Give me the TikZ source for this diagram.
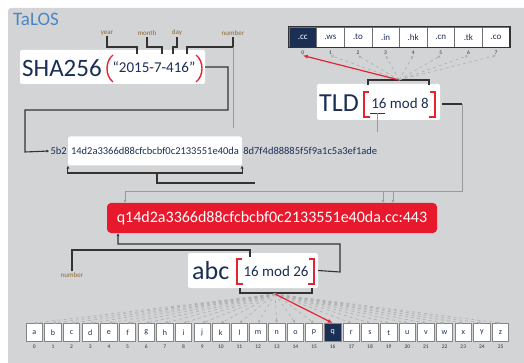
\documentclass[tikz,border=0pt]{standalone}
\usepackage{fontspec}
\setmainfont{Carlito}
\usetikzlibrary{arrows.meta,calc}
\definecolor{bg}{HTML}{D3D4D6}
\definecolor{navy}{HTML}{1B2F55}
\definecolor{boxred}{HTML}{E8192C}
\definecolor{linered}{HTML}{E52432}
\definecolor{lndark}{HTML}{333333}
\definecolor{lnlight}{HTML}{9A9A9A}
\definecolor{lblbrown}{HTML}{8C6A3A}
\definecolor{logoblue}{HTML}{4A86C5}
\newcommand{\fs}[1]{\fontsize{#1}{#1}\selectfont}
\tikzset{
  ln/.style={draw=lndark, line width=1.1pt},
  lnl/.style={draw=lnlight, line width=0.9pt},
  tip/.style={-{Latex[length=3pt,width=3pt]}},
  redarr/.style={draw=linered, line width=1.2pt, -{Latex[length=5pt,width=4pt]}},
  fanarr/.style={draw=lnlight!80, line width=0.6pt, dashed, -{Latex[length=3pt,width=3pt]}},
  brk/.style={draw=linered, line width=1.4pt},
  wbox/.style={fill=white, rounded corners=2pt, inner sep=0pt},
  lbl/.style={text=lblbrown, font=\fs{7}, inner sep=1pt},
  tldcell/.style={draw=lndark!70, fill=white, minimum width=27.6pt, minimum height=20pt, inner sep=0pt, text=navy, font=\fs{9}},
  abccell/.style={draw=lndark!60, fill=white, line width=0.8pt, minimum width=16.5pt, minimum height=18pt, inner sep=0pt, text=navy, font=\fs{8}},
  idx/.style={text=lndark, font=\fs{5.5}, inner sep=0.5pt},
}
\begin{document}
\begin{tikzpicture}[x=1pt,y=-1pt]
\useasboundingbox (0,0) rectangle (524,363);
\fill[white] (0,0) rectangle (524,363);
\fill[bg] (11,8) -- (524,8) -- (524,363) -- (8,363) -- (8,11) arc[start angle=180, end angle=90, radius=3pt] -- cycle;

% logo
\node[anchor=west, text=logoblue, font=\fs{19}, inner sep=0pt] (logo) at (13,19) {TaLOS};

% SHA256 box
\node[wbox, minimum width=185pt, minimum height=34pt] (shabox) at (112.5,67) {};
\node[anchor=west, text=navy, font=\fs{25}, inner sep=0pt] (sha) at (22,68) {SHA256};
\node[text=navy, font=\fs{15}, inner sep=0pt] (date) at (154,67) {“2015-7-416”};
\draw[brk] (113,55) .. controls (105,61) and (105,76) .. (113,82);
\draw[brk] (196,55) .. controls (204,61) and (204,76) .. (196,82);

% labels
\node[lbl] (year) at (107,33) {year};
\node[lbl] (month) at (147,33) {month};
\node[lbl] (day) at (177,33) {day};
\node[lbl] (number) at (233,33) {number};
\draw[ln] (year.south) -- (107,47) -- (137,47) -- (137,54);
\draw[ln] (month.south) -- (147,47) -- (162,47) -- (162,54);
\draw[ln] (day.south) -- (177,47) -- (173,47) -- (173,54);
\draw[ln] (number.south) -- (233,47) -- (187,47) -- (187,54);
\draw[lnl] (233,47) -- (233,128);

% TLD list
\foreach \t [count=\i from 0] in {.cc,.ws,.to,.in,.hk,.cn,.tk,.co} {
  \pgfmathsetmacro{\cx}{289+13.8+27.6*\i}
  \node[tldcell] (t\i) at (\cx,37) {\t};
  \node[idx] (ti\i) at (\cx,53) {\i};
}
\node[tldcell, fill=navy, text=white] at (t0) {.cc};
\draw[lndark, line width=1.2pt] (t0.north west) rectangle (t7.south east);

% TLD box
\node[wbox, minimum width=123pt, minimum height=36pt] (tldbox) at (378.5,102) {};
\node[anchor=west, text=navy, font=\fs{26}, inner sep=0pt] (tldtxt) at (319,103) {TLD};
\node[text=navy, font=\fs{15}, inner sep=0pt] (tldmod) at (400,103) {16 mod 8};
\draw[brk] (369,92) -- (364,92) -- (364,117) -- (370,117);
\draw[brk] (430,92) -- (435,92) -- (435,117) -- (429,117);
\draw[ln, line width=0.9pt] (370,113) -- (385,113);
\draw[lnl] (377,113) -- (377,132);
\draw[ln] (368,85) -- (368,80) -- (429,80) -- (429,85);
\coordinate (tldc) at (399,80);
\foreach \i in {1,...,7} { \draw[fanarr] (tldc) -- (ti\i.south); }
\draw[redarr] (tldc) -- (ti0.south);

% hash line
\node[wbox, minimum height=29pt, inner xsep=3pt, text=navy, font=\fs{10.5}] (hsub) at (155,151) {14d2a3366d88cfcbcbf0c2133551e40da};
\node[anchor=east, text=navy, font=\fs{10.5}, inner sep=1pt] (hpre) at (hsub.west) {5b2};
\node[anchor=west, text=navy, font=\fs{10.5}, inner sep=1pt] (hpost) at (hsub.east) {8d7f4d88885f5f9a1c5a3ef1ade};
\draw[ln, tip] (shabox.east) -- (228,67) -- (228,110) -- (25,110) -- (25,152) -- (hpre.west);
\draw[ln, {Latex[length=3pt,width=3pt]}-{Latex[length=3pt,width=3pt]}] (hsub.south west) -- (hsub.south west |- 0,173) -- (hsub.south east |- 0,173) -- (hsub.south east);
\coordinate (hend) at (255,183);
\draw[ln] (157,173) -- (157,183) -- (hend);

% domain box
\node[fill=boxred, rounded corners=4pt, minimum width=330pt, minimum height=30pt, text=white, font=\fs{16}, inner sep=0pt] (dom) at (272,218) {q14d2a3366d88cfcbcbf0c2133551e40da.cc:443};
\draw[ln] (tldbox.east) ++(2,2) -- (462,104);
\draw[lnl, tip] (462,104) -- (462,191) -- (125,191) -- (125,0 |- dom.north);
\draw[lnl, tip] (383,191) -- (383,0 |- dom.north);
\draw[lnl, tip] (393,191) -- (393,0 |- dom.north);

% abc box
\node[wbox, minimum width=130pt, minimum height=35pt] (abcbox) at (253,270.5) {};
\node[anchor=west, text=navy, font=\fs{26}, inner sep=0pt] (abctxt) at (192,271) {abc};
\node[text=navy, font=\fs{15}, inner sep=0pt] (abcmod) at (276,271) {16 mod 26};
\draw[brk] (242,259) -- (237,259) -- (237,284) -- (243,284);
\draw[brk] (309,259) -- (314,259) -- (314,284) -- (308,284);
\node[lbl] (numlbl) at (72,275) {number};
\draw[ln] (numlbl.north) -- (72,250) -- (250,250) -- (250,257);
\draw[ln, tip] (abcbox.east) -- (340,272) -- (340,244) -- (118,244) -- (118,0 |- dom.south);
\draw[ln] (240,288) -- (240,293) -- (312,293) -- (312,288);
\coordinate (abcc) at (275,294);

% alphabet
\foreach \l [count=\i from 0] in {a,b,c,d,e,f,g,h,i,j,k,l,m,n,o,p,q,r,s,t,u,v,w,x,y,z} {
  \pgfmathsetmacro{\cx}{25+9.3+18.65*\i}
  \node[abccell] (c\i) at (\cx,332.5) {\l};
  \node[idx] (ci\i) at (\cx,347) {\i};
}
\node[abccell, fill=navy, text=white] at (c16) {q};
\foreach \i in {0,...,15,17,18,...,25} { \draw[fanarr] (abcc) -- (c\i.north); }
\draw[redarr] (abcc) -- (c16.north);
\end{tikzpicture}
\end{document}
